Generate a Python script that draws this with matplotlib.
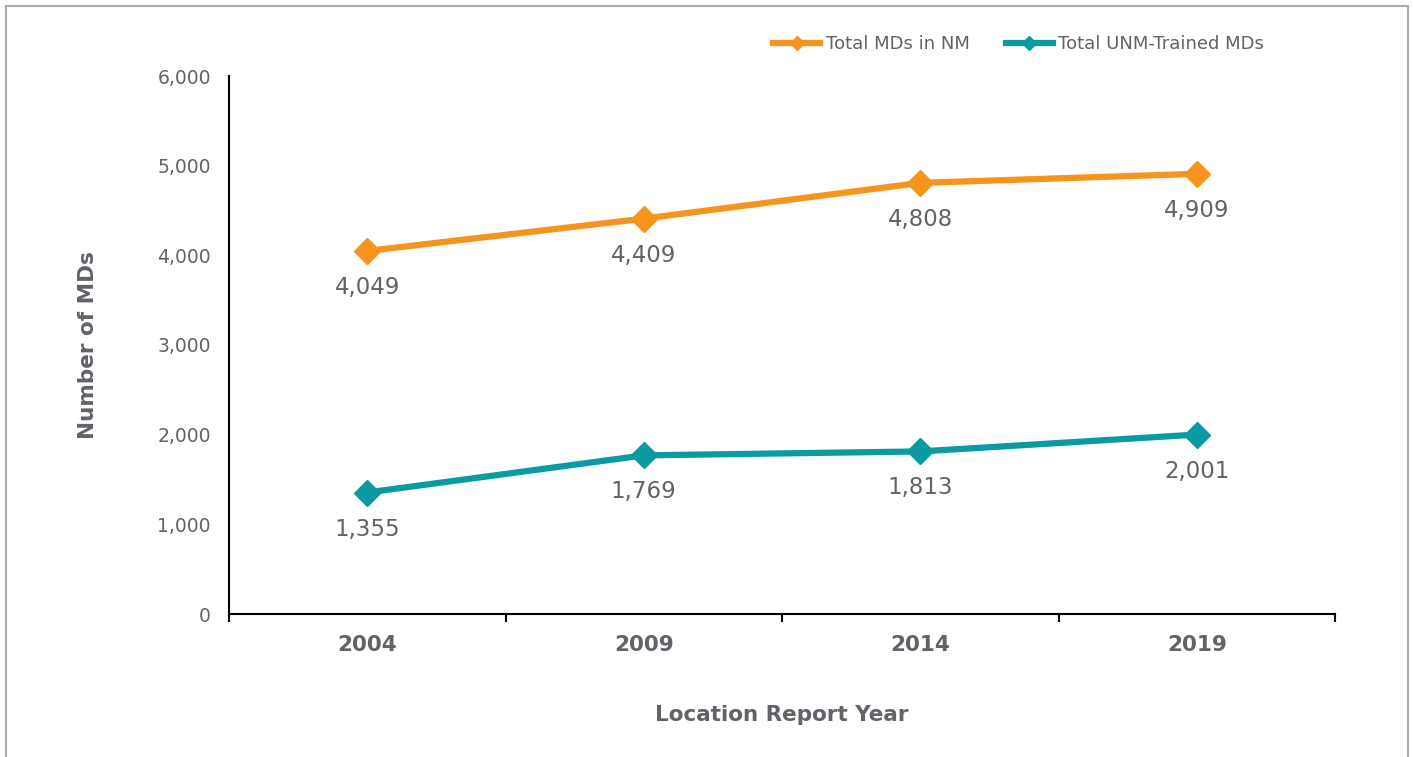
import matplotlib
matplotlib.use("Agg")
import matplotlib.pyplot as plt
from matplotlib.lines import Line2D

years = ["2004", "2009", "2014", "2019"]
total_md = [4049, 4409, 4808, 4909]
unm_md = [1355, 1769, 1813, 2001]
series_names = ["Total MDs in NM", "Total UNM-Trained MDs"]

ORANGE = "#F7941D"
TEAL = "#0A9AA1"
GRAY = "#606367"

plt.rcParams['font.family'] = ['DejaVu Sans']

W, H = 1413, 757
fig = plt.figure(figsize=(W / 100, H / 100), dpi=100)
ax = fig.add_axes([229 / W, 1 - 614 / H, (1335 - 229) / W, (614 - 76) / H])

x = list(range(len(years)))
for vals, col, name in [(total_md, ORANGE, series_names[0]), (unm_md, TEAL, series_names[1])]:
    ax.plot(x, vals, color=col, lw=4.5, marker="D", ms=13, mfc=col, mec=col, label=name,
            solid_capstyle="round")
    for xi, v in zip(x, vals):
        ax.annotate(f"{v:,}", (xi, v), xytext=(0, -18), textcoords="offset points",
                    ha="center", va="top", fontsize=16.5, color=GRAY)

ax.set_xlim(-0.5, len(years) - 0.5)
ax.set_ylim(0, 6000)
ax.set_yticks(range(0, 6001, 1000))
ax.set_yticklabels([f"{v:,}" for v in range(0, 6001, 1000)], fontsize=13.5, color=GRAY)
ax.tick_params(axis="y", length=0, pad=13)

ax.set_xticks([i - 0.5 for i in range(len(years) + 1)])
ax.set_xticklabels([])
ax.set_xticks(x, minor=True)
ax.set_xticklabels(years, minor=True, fontsize=15.5, fontweight="bold", color=GRAY)
ax.tick_params(axis="x", which="major", length=6, width=1.5, color="black", direction="out")
ax.tick_params(axis="x", which="minor", length=0, pad=15)

for s in ["top", "right"]:
    ax.spines[s].set_visible(False)
for s in ["left", "bottom"]:
    ax.spines[s].set_linewidth(1.5)
    ax.spines[s].set_color("black")

ax.set_xlabel("Location Report Year", fontsize=15.5, fontweight="bold", color=GRAY, labelpad=36)
ax.set_ylabel("Number of MDs", fontsize=15.5, fontweight="bold", color=GRAY, labelpad=43)

handles = [Line2D([0], [0], color=ORANGE, lw=4.5, marker="D", ms=7),
           Line2D([0], [0], color=TEAL, lw=4.5, marker="D", ms=7)]
fig.legend(handles, series_names, loc="center left", bbox_to_anchor=(757 / W, 1 - 44 / H),
           ncol=2, frameon=False, fontsize=13, labelcolor=GRAY, handlelength=2.6,
           handletextpad=0.3, columnspacing=2.0)

bc = "#a3adb3"
fig.add_artist(Line2D([6 / W, 6 / W], [0, 1 - 6 / H], transform=fig.transFigure, color=bc, lw=1.5))
fig.add_artist(Line2D([6 / W, 1408 / W], [1 - 6 / H, 1 - 6 / H], transform=fig.transFigure, color=bc, lw=1.5))
fig.add_artist(Line2D([1408 / W, 1408 / W], [0, 1 - 6 / H], transform=fig.transFigure, color=bc, lw=1.5))

fig.savefig("out.png", dpi=100)
